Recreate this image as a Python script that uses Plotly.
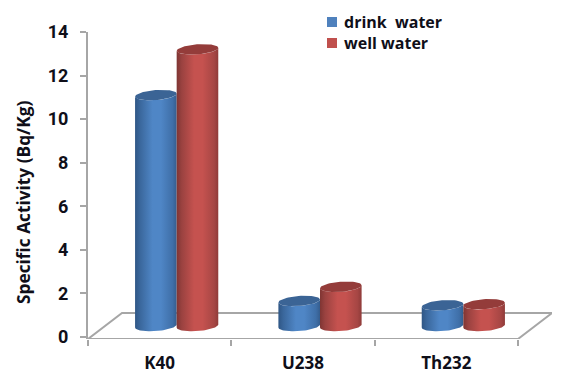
import numpy as np
import plotly.graph_objects as go

categories = ["K40", "U238", "Th232"]
series_names = ["drink\u00a0 water", "well water"]
drink_water = [10.6, 1.15, 0.95]
well_water = [12.7, 1.8, 1.0]
y_ticks = [0, 2, 4, 6, 8, 10, 12, 14]

# Plot frame in pixels
WIDTH, HEIGHT = 573, 380
LEFT, RIGHT, TOP, BOTTOM = 88, 21, 32, 41
PLOT_W, PLOT_H = WIDTH - LEFT - RIGHT, HEIGHT - TOP - BOTTOM
PX_PER_CAT = 143.33
PX_PER_UNIT = 21.8
DEPTH_X = 34 / PX_PER_CAT   # oblique floor depth, in axis units
DEPTH_Y = 26 / PX_PER_UNIT
FLOOR_FRONT = -2 / PX_PER_UNIT

# Cylinder proportions, in axis units
RADIUS_X = 20.8 / PX_PER_CAT
RADIUS_Y = 5.0 / PX_PER_UNIT
TILT = 1.5 / PX_PER_UNIT
BASE_Y = FLOOR_FRONT + DEPTH_Y / 2

BLUE_RAMP = [[0, "#2f5685"], [0.12, "#3a679c"], [0.42, "#4f86c6"], [0.62, "#4f86c6"],
             [0.9, "#3f6fa8"], [1, "#355d8e"]]
RED_RAMP = [[0, "#7f3533"], [0.12, "#9a4240"], [0.42, "#c5524f"], [0.62, "#c5524f"],
            [0.9, "#a64644"], [1, "#8f3b39"]]
BLUE_TOP, RED_TOP = "#3b6495", "#943c3a"
SWATCHES = ["#4f81bd", "#c0504d"]
AXIS_GREY = "#a6a6a6"
INK = "#0f0f19"
FONT = "Open Sans"


def rim(cx, cy, start, stop, n=40):
    """Points along a tilted ellipse, anticlockwise angles in radians."""
    t = np.linspace(start, stop, n)
    return cx + RADIUS_X * np.cos(t), cy + RADIUS_Y * np.sin(t) + TILT * np.cos(t)


def add_cylinder(fig, cx, value, ramp, top_color):
    top_y = BASE_Y + value
    # Body: front of the base rim, then the front of the top rim back to the left
    bx, by = rim(cx, BASE_Y, np.pi, 2 * np.pi)
    tx, ty = rim(cx, top_y, 2 * np.pi, np.pi)
    fig.add_trace(go.Scatter(
        x=np.r_[bx, tx, bx[0]], y=np.r_[by, ty, by[0]],
        mode="lines", line=dict(width=0), fill="toself",
        fillgradient=dict(type="horizontal", colorscale=ramp),
        showlegend=False, hoverinfo="skip",
    ))
    ex, ey = rim(cx, top_y, 0, 2 * np.pi, 60)
    fig.add_trace(go.Scatter(
        x=ex, y=ey, mode="lines", line=dict(width=0), fill="toself",
        fillcolor=top_color, showlegend=False, hoverinfo="skip",
    ))


def paper_x(px):
    return (px - LEFT) / PLOT_W


def paper_y(px):
    return (HEIGHT - BOTTOM - px) / PLOT_H


fig = go.Figure()

# Floor of the oblique plot box
x0, x1 = -0.5, len(categories) - 0.5
fig.add_trace(go.Scatter(
    x=[x0, x1, x1 + DEPTH_X, x0 + DEPTH_X, x0],
    y=[FLOOR_FRONT, FLOOR_FRONT, FLOOR_FRONT + DEPTH_Y, FLOOR_FRONT + DEPTH_Y, FLOOR_FRONT],
    mode="lines", line=dict(color=AXIS_GREY, width=2),
    showlegend=False, hoverinfo="skip",
))

for i, (a, b) in enumerate(zip(drink_water, well_water)):
    centre = i + DEPTH_X / 2
    add_cylinder(fig, centre - RADIUS_X, a, BLUE_RAMP, BLUE_TOP)
    add_cylinder(fig, centre + RADIUS_X, b, RED_RAMP, RED_TOP)

# Key in the top right: colour squares with their series names
annotations = [dict(
    text="<b>Specific Activity (Bq/Kg)</b>", textangle=-90, showarrow=False,
    xref="paper", yref="paper", x=paper_x(23), y=paper_y(203),
    xanchor="center", yanchor="middle",
    font=dict(family=FONT, size=17.3, color=INK),
)]
shapes = []
for row, (name, colour) in enumerate(zip(series_names, SWATCHES)):
    mid = 22 + 21 * row
    shapes.append(dict(
        type="rect", xref="paper", yref="paper",
        x0=paper_x(327), x1=paper_x(337), y0=paper_y(mid + 5), y1=paper_y(mid - 5),
        fillcolor=colour, line=dict(width=0),
    ))
    annotations.append(dict(
        text=f"<b>{name}</b>", showarrow=False, xref="paper", yref="paper",
        x=paper_x(344), y=paper_y(mid), xanchor="left", yanchor="middle", xshift=-2,
        font=dict(family=FONT, size=16, color=INK),
    ))

fig.update_layout(
    width=WIDTH, height=HEIGHT, autosize=False,
    margin=dict(l=LEFT, r=RIGHT, t=TOP, b=BOTTOM, pad=0, autoexpand=False),
    paper_bgcolor="white", plot_bgcolor="white",
    font=dict(family=FONT, color=INK),
    showlegend=False,
    annotations=annotations, shapes=shapes,
)
fig.update_xaxes(
    automargin=False,
    range=[x0, x1 + DEPTH_X], showgrid=False, zeroline=False, showline=False,
    tickmode="array", tickvals=list(range(len(categories))), ticktext=categories,
    ticks="", tickfont=dict(family=FONT, size=17, color=INK, weight="bold"),
    ticklabelstandoff=12,
    minor=dict(
        tickmode="array", tickvals=[i - 0.5 for i in range(len(categories) + 1)],
        ticks="outside", ticklen=6, tickwidth=1.5, tickcolor=AXIS_GREY, showgrid=False,
    ),
)
fig.update_yaxes(
    automargin=False,
    range=[FLOOR_FRONT, 14], showgrid=False, zeroline=False,
    showline=True, linecolor=AXIS_GREY, linewidth=2,
    tickmode="array", tickvals=y_ticks, ticks="outside", ticklen=6, tickwidth=1.5,
    tickcolor=AXIS_GREY, tickfont=dict(family="Roboto", size=18, color=INK, weight="bold"),
    ticklabelstandoff=8,
)

fig.write_html("out.html")
